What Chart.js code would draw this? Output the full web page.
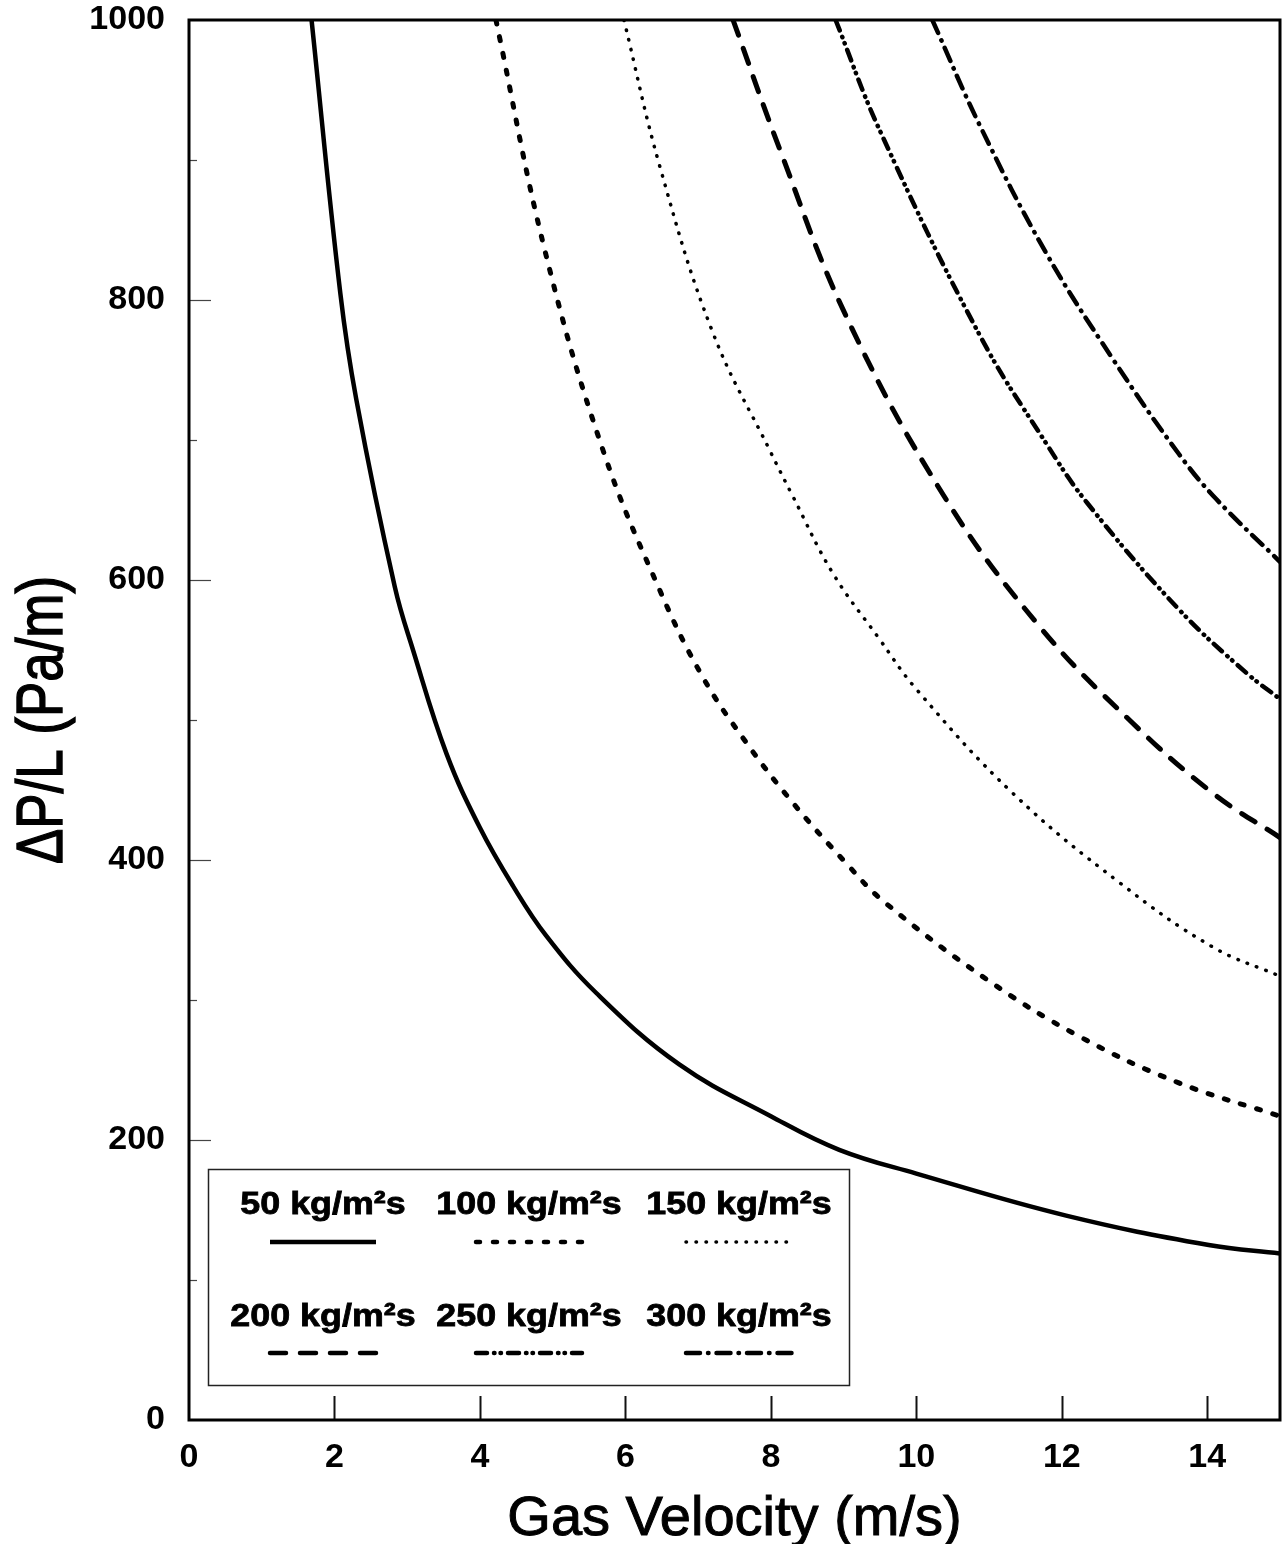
<!DOCTYPE html>
<html>
<head>
<meta charset="utf-8">
<script src="https://cdn.jsdelivr.net/npm/chart.js@4.4.1/dist/chart.umd.min.js"></script>
<style>
  html, body { margin: 0; padding: 0; background: #ffffff; }
  #wrap { width: 1284px; height: 1544px; }
</style>
</head>
<body>
<div id="wrap"><canvas id="chart" width="1284" height="1544"></canvas></div>
<script>
// Pressure gradient vs gas velocity for six mass fluxes
const seriesLabels = ['50 kg/m²s', '100 kg/m²s', '150 kg/m²s', '200 kg/m²s', '250 kg/m²s', '300 kg/m²s'];

const v50  = [1.685, 2.08, 2.30, 2.83, 3.08, 3.54, 4.00, 4.46, 4.91, 5.60, 6.74, 8.00, 8.94, 10.00, 12.06, 14.02, 15.00];
const dp50 = [1000, 805, 729, 595, 550, 476, 423, 381, 346, 305, 254, 217, 193, 176, 146, 125, 119];

const v100  = [4.22, 4.89, 5.69, 6.47, 7.06, 7.66, 8.30, 9.03, 9.56, 10.96, 12.24, 13.60, 15.00];
const dp100 = [1000, 836, 693, 593, 531, 484, 441, 398, 370, 315, 274, 241, 217];

const v150  = [5.98, 6.47, 7.20, 8.00, 8.30, 8.85, 9.49, 10.00, 11.32, 12.79, 14.07, 15.00];
const dp150 = [1000, 896, 777, 691, 660, 605, 558, 522, 448, 384, 338, 317];

const v200  = [7.48, 8.12, 9.03, 10.38, 11.69, 12.93, 14.07, 15.00];
const dp200 = [1000, 908, 789, 660, 567, 500, 448, 416];

const v250  = [8.89, 9.49, 10.87, 11.78, 12.35, 13.61, 14.53, 15.00];
const dp250 = [1000, 922, 775, 698, 655, 579, 534, 515];

const v300  = [10.22, 10.87, 11.78, 12.70, 13.61, 14.12, 15.00];
const dp300 = [1000, 925, 834, 758, 690, 658, 613];

const xTickStep = 2;
const yTickStep = 200;
const yMinorStep = 100;

const toPoints = (xs, ys) => xs.map((x, i) => ({ x: x, y: ys[i] }));

const lineStyles = [
  { borderWidth: 4.5, borderDash: [], borderCapStyle: 'butt' },
  { borderWidth: 5, borderDash: [4, 13], borderCapStyle: 'round' },
  { borderWidth: 3.5, borderDash: [0.5, 9.5], borderCapStyle: 'round' },
  { borderWidth: 5, borderDash: [16, 14], borderCapStyle: 'round' },
  { borderWidth: 4.5, borderDash: [11, 7, 0.5, 6, 0.5, 7], borderCapStyle: 'round' },
  { borderWidth: 4.5, borderDash: [14, 8, 0.5, 8], borderCapStyle: 'round' }
];

const seriesData = [
  toPoints(v50, dp50), toPoints(v100, dp100), toPoints(v150, dp150),
  toPoints(v200, dp200), toPoints(v250, dp250), toPoints(v300, dp300)
];

const datasets = seriesData.map((pts, i) => Object.assign({
  label: seriesLabels[i],
  data: pts,
  borderColor: '#000000',
  backgroundColor: '#000000',
  pointRadius: 0,
  fill: false,
  tension: 0.4,
  borderJoinStyle: 'round'
}, lineStyles[i]));

const FONT = "'Liberation Sans', Arial, Helvetica, sans-serif";

// Frame, inward tick marks, boxed legend and axis titles
const decorations = {
  id: 'decorations',
  afterDatasetsDraw(chart) {
    const ctx = chart.ctx;
    const a = chart.chartArea;
    const xs = chart.scales.x;
    const ys = chart.scales.y;

    ctx.save();
    // x tick marks pointing up into the plot
    ctx.strokeStyle = '#111';
    ctx.lineWidth = 2;
    for (let v = xTickStep; v < xs.max; v += xTickStep) {
      const px = Math.round(xs.getPixelForValue(v)) + 0.5;
      ctx.beginPath();
      ctx.moveTo(px, a.bottom);
      ctx.lineTo(px, a.bottom - 24);
      ctx.stroke();
    }
    // y tick marks, faint, pointing right into the plot
    ctx.strokeStyle = '#444';
    ctx.lineWidth = 1.2;
    for (let v = yMinorStep; v < ys.max; v += yMinorStep) {
      const py = Math.round(ys.getPixelForValue(v)) + 0.5;
      const len = (v % yTickStep === 0) ? 22 : 8;
      ctx.beginPath();
      ctx.moveTo(a.left, py);
      ctx.lineTo(a.left + len, py);
      ctx.stroke();
    }
    // plot frame
    ctx.strokeStyle = '#000';
    ctx.lineWidth = 3;
    ctx.strokeRect(a.left, a.top, a.right - a.left, a.bottom - a.top);

    // legend box
    const bx = a.left + 19, by = a.bottom - 251, bw = 641, bh = 216;
    ctx.fillStyle = '#fff';
    ctx.fillRect(bx, by, bw, bh);
    ctx.strokeStyle = '#222';
    ctx.lineWidth = 1.5;
    ctx.strokeRect(bx + 0.5, by + 0.5, bw, bh);

    const colCenters = [115, 321, 531];
    const textBase = [45, 157];
    const lineY = [73, 184];
    chart.data.datasets.forEach((ds, i) => {
      const col = i % 3, row = Math.floor(i / 3);
      const cx = bx + colCenters[col];
      ctx.save();
      ctx.translate(cx, by + textBase[row]);
      ctx.scale(1.12, 1);
      ctx.font = 'bold 32px ' + FONT;
      ctx.fillStyle = '#000';
      ctx.strokeStyle = '#000';
      ctx.lineWidth = 0.8;
      ctx.textAlign = 'center';
      ctx.textBaseline = 'alphabetic';
      ctx.fillText(ds.label, 0, 0);
      ctx.strokeText(ds.label, 0, 0);
      ctx.restore();

      ctx.save();
      ctx.strokeStyle = '#000';
      ctx.lineWidth = Math.min(ds.borderWidth, 4.5);
      ctx.lineCap = ds.borderCapStyle;
      ctx.setLineDash(ds.borderDash);
      ctx.beginPath();
      ctx.moveTo(cx - 53, by + lineY[row]);
      ctx.lineTo(cx + 53, by + lineY[row]);
      ctx.stroke();
      ctx.restore();
    });

    // x axis title
    ctx.fillStyle = '#000';
    ctx.strokeStyle = '#000';
    ctx.lineWidth = 1;
    ctx.font = '56px ' + FONT;
    ctx.textAlign = 'center';
    ctx.textBaseline = 'alphabetic';
    const xt = 'Gas Velocity (m/s)';
    const xc = (a.left + a.right) / 2;
    ctx.fillText(xt, xc, 1535);
    ctx.strokeText(xt, xc, 1535);

    // y axis title, rotated
    const yt = 'ΔP/L (Pa/m)';
    ctx.save();
    ctx.translate(62, (a.top + a.bottom) / 2);
    ctx.rotate(-Math.PI / 2);
    ctx.font = '54px ' + FONT;
    const w = ctx.measureText(yt).width;
    ctx.scale(288 / w, 1.2);
    ctx.textAlign = 'center';
    ctx.fillText(yt, 0, 0);
    ctx.lineWidth = 1.2;
    ctx.strokeText(yt, 0, 0);
    ctx.restore();

    ctx.restore();
  }
};

new Chart(document.getElementById('chart'), {
  type: 'line',
  data: { datasets: datasets },
  options: {
    responsive: false,
    animation: false,
    layout: { padding: { top: 20, right: 4, left: 0, bottom: 0 } },
    plugins: {
      legend: { display: false },
      tooltip: { enabled: false },
      title: { display: false }
    },
    scales: {
      x: {
        type: 'linear',
        min: 0,
        max: 15,
        grid: { display: false, drawTicks: false },
        border: { display: false },
        ticks: {
          stepSize: xTickStep,
          includeBounds: false,
          padding: 17,
          color: '#000',
          font: { family: FONT, weight: 'bold', size: 34 },
          maxRotation: 0,
          callback: (v) => String(v)
        },
        afterFit(scale) {
          scale.height = 124;
          scale.paddingLeft = 0;
          scale.paddingRight = 0;
        }
      },
      y: {
        type: 'linear',
        min: 0,
        max: 1000,
        grid: { display: false, drawTicks: false },
        border: { display: false },
        ticks: {
          stepSize: yTickStep,
          padding: 24,
          color: '#000',
          font: { family: FONT, weight: 'bold', size: 34 },
          callback: (v) => String(v)
        },
        afterFit(scale) {
          scale.width = 189;
          scale.paddingTop = 0;
          scale.paddingBottom = 0;
        }
      }
    }
  },
  plugins: [decorations]
});
</script>
</body>
</html>
